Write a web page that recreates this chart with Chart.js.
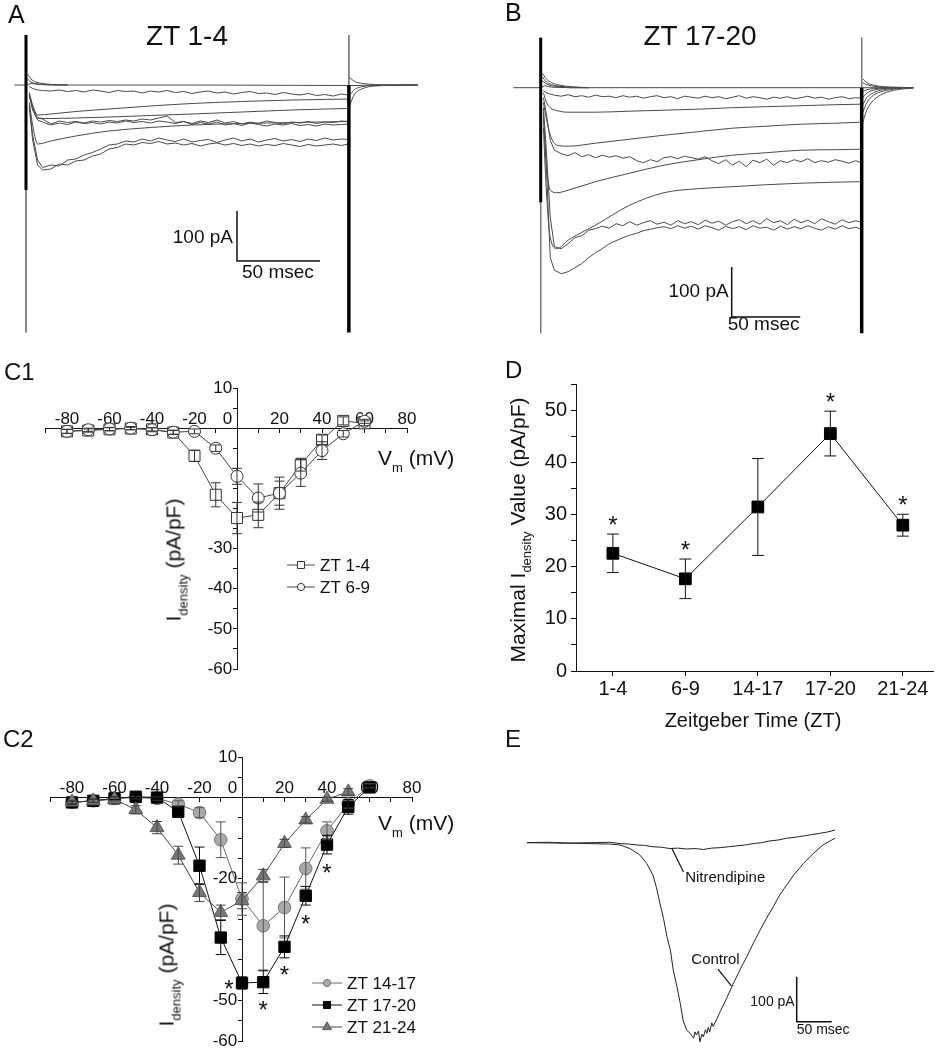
<!DOCTYPE html>
<html>
<head>
<meta charset="utf-8">
<title>L-type Ca2+ current across the day</title>
<script src="https://cdn.jsdelivr.net/npm/chart.js@4.4.1/dist/chart.umd.min.js"></script>
<style>
  body { margin: 0; background: #fff; }
  #fig { position: relative; width: 943px; height: 1050px; overflow: hidden;
         font-family: "Liberation Sans", Arial, Helvetica, sans-serif; color: #111; }
  #fig canvas { position: absolute; }
  .t { position: absolute; line-height: 1; white-space: nowrap; }
  .c { transform: translateX(-50%); }
  .rot { position: absolute; line-height: 1; white-space: nowrap; transform: translate(-50%, -50%) rotate(-90deg); }
  sub { font-size: 62%; line-height: 0; vertical-align: -0.5em; }
</style>
</head>
<body>
<div id="fig">
  <canvas id="cA" width="470" height="340" style="left:0;top:0"></canvas>
  <canvas id="cB" width="473" height="340" style="left:470px;top:0"></canvas>
  <canvas id="cC1" width="470" height="330" style="left:0;top:360px"></canvas>
  <canvas id="cC2" width="470" height="350" style="left:0;top:700px"></canvas>
  <canvas id="cD" width="473" height="370" style="left:470px;top:360px"></canvas>
  <canvas id="cE" width="473" height="320" style="left:470px;top:730px"></canvas>

  <div class="t" style="left:8px;top:2px;font-size:25px">A</div>
  <div class="t" style="left:505px;top:0;font-size:25px">B</div>
  <div class="t" style="left:4px;top:360px;font-size:24px">C1</div>
  <div class="t" style="left:3px;top:727px;font-size:24px">C2</div>
  <div class="t" style="left:505px;top:358px;font-size:24px">D</div>
  <div class="t" style="left:505px;top:727px;font-size:24px">E</div>
  <div class="t c" style="left:187px;top:22px;font-size:28px">ZT 1-4</div>
  <div class="t c" style="left:700px;top:22px;font-size:28px">ZT 17-20</div>
  <div class="t" style="left:378px;top:447px;font-size:21px">V<sub>m</sub> (mV)</div>
  <div class="t" style="left:378px;top:812px;font-size:21px">V<sub>m</sub> (mV)</div>
  <div class="rot" style="left:173px;top:560px;font-size:21px">I<sub>density</sub> (pA/pF)</div>
  <div class="rot" style="left:166px;top:965px;font-size:21px">I<sub>density</sub> (pA/pF)</div>
  <div class="rot" style="left:517px;top:530px;font-size:21px">Maximal I<sub>density</sub> Value (pA/pF)</div>
  <div class="t c" style="left:753px;top:710px;font-size:20px">Zeitgeber Time (ZT)</div>
</div>

<script>
// ---- A: whole-cell traces at ZT 1-4 (time in ms from step onset, current in pA)
const tA  = [2, 4, 7, 10, 15, 20, 25, 30, 35, 40, 45, 50, 55, 60, 65, 70, 75, 80, 85, 90, 95,
             100, 105, 110, 115, 120, 125, 130, 135, 140, 145, 150, 155, 160, 165, 170, 175, 180, 185, 190, 194];
const tAc = [2, 4, 7, 15, 30, 50, 75, 100, 130, 160, 194];
const a1 = [-3, -7, -10, -11, -12, -10, -13, -11, -14, -10, -12, -15, -11, -13, -12, -16, -12, -14, -11, -15, -13,
            -17, -14, -12, -16, -14, -18, -15, -13, -17, -16, -19, -15, -18, -20, -17, -21, -19, -22, -18, -20];
const a2 = [-15, -40, -60, -58, -53, -48, -42, -37, -33, -30, -28];
const a3 = [-18, -45, -66, -67, -66, -64, -61, -58, -54, -50, -47];
const a4 = [-20, -45, -66, -68, -78, -72, -75, -73, -76, -72, -74, -71, -73, -70, -72, -68, -70, -66, -62, -75, -73,
            -77, -72, -75, -70, -76, -73, -78, -74, -77, -72, -75, -78, -74, -76, -73, -77, -74, -75, -72, -73];
const a5 = [-22, -50, -70, -74, -80, -76, -79, -74, -77, -75, -78, -74, -76, -72, -75, -73, -76, -72, -74, -77, -73,
            -79, -75, -78, -74, -80, -77, -81, -76, -79, -82, -78, -80, -77, -81, -79, -82, -78, -80, -79, -78];
const a6 = [-35, -80, -118, -112, -102, -92, -85, -80, -77, -75, -73];
const a7 = [-40, -100, -150, -165, -160, -162, -150, -148, -140, -135, -128, -120, -118, -112, -114, -108, -112, -106, -110, -113, -108,
            -114, -111, -109, -115, -110, -106, -112, -108, -114, -110, -107, -112, -109, -113, -108, -111, -106, -110, -108, -109];
const a8 = [-45, -110, -160, -170, -168, -158, -160, -152, -150, -142, -138, -128, -125, -118, -120, -115, -117, -113, -118, -116, -120,
            -117, -122, -118, -116, -120, -117, -121, -118, -122, -119, -121, -117, -120, -123, -119, -122, -120, -118, -121, -118];
const baseTA = [-7, 0, 3, 8, 20, 100, 194, 200, 210, 236];
const baseA  = [0, 0, 3, 1, 0, 0, -1, -1, 0, 0];
const onTA = [1, 3, 6, 10, 16, 25];
const onA  = [[22, 12, 6, 3, 1, 0], [12, 6, 3, 1, 0, 0]];
const tailTA = [195, 198, 203, 210, 220, 236];
const tailA  = [[-40, -18, -7, -2, -1, 0], [-20, -9, -3, -1, 0, 0], [15, 7, 3, 1, 0, 0]];
const capA = { on: 0, off: 194.5, top: 100, core: -210, bottom: -495 };   // capacitive transients

// ---- B: traces at ZT 17-20
const tB  = [2, 4, 7, 10, 15, 20, 25, 30, 35, 40, 45, 50, 55, 60, 65, 70, 75, 80, 85, 90, 95, 100, 105, 110, 115,
             120, 125, 130, 135, 140, 145, 150, 155, 160, 165, 170, 175, 180, 185, 190, 195, 200, 205, 210, 215, 220, 225, 230, 234];
const tBc = [2, 4, 7, 12, 20, 40, 65, 90, 115, 140, 165, 190, 215, 234];
const b1 = [-6, -10, -13, -15, -17, -14, -18, -16, -19, -15, -18, -17, -20, -16, -19, -17, -21, -18, -16, -20, -18, -22, -17, -19, -21,
            -17, -20, -18, -22, -19, -16, -21, -18, -20, -23, -19, -21, -18, -22, -20, -17, -21, -19, -23, -20, -18, -22, -20, -21];
const b2 = [-10, -28, -40, -46, -49, -49, -47, -45, -43, -40, -38, -36, -34, -33];
const b3 = [-30, -60, -95, -115, -117, -111, -103, -95, -88, -81, -77, -73, -71, -69];
const b4 = [-20, -50, -105, -125, -132, -136, -130, -138, -134, -140, -135, -139, -136, -141, -138, -146, -150, -144, -148, -140, -138, -142, -137, -140, -143,
            -138, -146, -152, -144, -155, -147, -158, -145, -150, -143, -155, -146, -150, -144, -148, -142, -150, -146, -149, -144, -147, -151, -146, -150];
const b5 = [-60, -150, -205, -210, -205, -188, -171, -155, -144, -135, -130, -125, -124, -123];
const b6 = [-80, -200, -300, -322, -305, -275, -235, -210, -202, -198, -194, -191, -189, -188];
const b7 = [-40, -120, -260, -318, -322, -312, -300, -296, -285, -282, -277, -281, -272, -276, -268, -275, -270, -266, -273, -269, -275, -266, -272, -268, -274,
            -265, -271, -267, -275, -268, -264, -272, -266, -273, -262, -270, -266, -274, -263, -270, -265, -272, -262, -268, -273, -264, -270, -266, -269];
const b8 = [-50, -150, -340, -365, -372, -368, -360, -352, -340, -330, -322, -312, -306, -300, -295, -291, -286, -283, -280, -278, -282, -276, -281, -277, -283,
            -276, -280, -285, -277, -282, -278, -284, -276, -281, -279, -285, -277, -283, -278, -282, -276, -281, -285, -278, -283, -276, -282, -279, -283];
const baseTB = [-20, 0, 3, 8, 20, 234, 240, 250, 272];
const baseB  = [0, 0, 4, 1, 0, 0, 0, 0, 0];
const onTB = [1, 4, 8, 14, 22, 35];
const onB  = [[30, 18, 10, 5, 2, 0], [22, 12, 6, 3, 1, 0], [14, 8, 4, 2, 0, 0]];
const tailTB = [235, 238, 243, 250, 260, 272];
const tailB  = [[-70, -45, -25, -12, -4, -1], [-50, -30, -15, -7, -2, 0], [-35, -20, -10, -4, -1, 0],
                [-20, -11, -5, -2, 0, 0], [-8, -4, -2, -1, 0, 0], [18, 10, 5, 2, 1, 0], [10, 6, 3, 1, 0, 0]];
const capB = { on: 0, off: 234.3, top: 100, core: -229, bottom: -491 };

// ---- C1 / C2: I-V relations, mean and SEM (pA/pF)
const vSteps = [-80, -70, -60, -50, -40, -30, -20, -10, 0, 10, 20, 30, 40, 50, 60];
const zt1_4     = [-0.8, -0.6, -0.3, -0.1, -0.3, -1.1, -6.9, -16.6, -22.4, -21.6, -16.2, -9.1, -2.9, 1.8, 1.2];
const zt1_4Err  = [0.5, 0.4, 0.4, 0.3, 0.4, 0.5, 1.4, 3.0, 3.9, 3.2, 3.0, 1.6, 1.2, 1.0, 0.6];
const zt6_9     = [-0.8, -0.4, -0.2, 0, -0.4, -1.0, -0.8, -5.0, -12.0, -17.4, -16.2, -11.2, -5.6, -1.4, 1.7];
const zt6_9Err  = [0.5, 0.4, 0.4, 0.4, 0.5, 0.5, 0.6, 0.8, 2.0, 3.5, 4.0, 3.3, 2.2, 0.8, 0.5];
const zt14_17    = [-1.2, -0.8, -0.2, 0, -0.2, -1.6, -3.7, -10.4, -25.0, -31.6, -27.1, -17.5, -8.2, -1.6, 2.9];
const zt14_17Err = [0.4, 0.4, 0.4, 0.3, 0.4, 0.8, 1.2, 4.4, 4.0, 10.9, 7.5, 5.1, 2.2, 1.0, 0.5];
const zt17_20    = [-1.2, -0.8, -0.2, 0.2, 0, -3.5, -16.8, -34.5, -45.7, -45.5, -36.8, -24.2, -11.6, -2.3, 2.5];
const zt17_20Err = [0.4, 0.4, 0.3, 0.3, 0.4, 1.0, 4.6, 4.2, 1.5, 2.8, 2.7, 2.3, 2.3, 1.8, 0.5];
const zt21_24    = [-1.1, -0.8, -0.4, -3.0, -7.4, -14.2, -23.4, -28.3, -25.4, -19.3, -11.3, -5.5, -0.4, 1.4, null];
const zt21_24Err = [0.4, 0.4, 0.4, 1.0, 1.5, 2.2, 2.2, 1.8, 2.0, 1.6, 1.0, 0.8, 0.5, 0.8, null];
const sigC2 = [0, 10, 20, 30, 40];          // ZT 17-20 points marked *
const yLabC1 = [10, -30, -40, -50, -60];
const yLabC2 = [10, -20, -50, -60];

// ---- D: maximal current density per ZT window
const zts    = ['1-4', '6-9', '14-17', '17-20', '21-24'];
const maxI   = [22.6, 17.7, 31.5, 45.6, 28.0];
const maxErr = [3.7, 3.8, 9.3, 4.3, 2.1];
const sigD   = ['1-4', '6-9', '17-20', '21-24'];

// ---- E: control vs nitrendipine (ms, pA)
const tCtl = [0, 60, 118, 133, 147, 161, 171, 180, 185, 190, 195, 200, 205, 209, 214, 219, 223, 228, 233, 238,
              240, 242, 245, 247, 250, 252, 255, 257, 259, 261, 264, 266, 271, 276, 285, 295, 304, 314, 323, 333,
              342, 352, 361, 371, 381, 395, 409, 423, 440];
const ctl  = [0, -1, -3, -5, -13, -27, -46, -72, -100, -135, -168, -209, -240, -283, -318, -357, -394, -416, -423, -434,
              -420, -427, -418, -442, -425, -431, -415, -423, -410, -420, -400, -408, -392, -375, -346, -312, -283, -253, -224, -194,
              -168, -142, -116, -94, -72, -46, -24, -5, 10];
const tNit = [0, 30, 60, 90, 118, 133, 145, 157, 168, 180, 192, 204, 216, 228, 240, 252, 264, 276, 288, 300,
              312, 323, 335, 347, 359, 371, 383, 395, 407, 419, 430, 440];
const nit  = [0, 1, -1, 0, 1, -2, -3, -5, -6, -9, -10, -13, -12, -14, -13, -15, -12, -11, -9, -7,
              -5, -2, 0, 4, 6, 10, 12, 15, 18, 21, 24, 28];

const ink = '#111';
const family = '"Liberation Sans", Arial, Helvetica, sans-serif';
Chart.defaults.font.family = family;
Chart.defaults.color = ink;

const xy = (xs, ys) => xs.map((x, i) => ({ x, y: ys[i] }));

// vertical bar + two caps for every point, separated by gaps
function errorBars(xs, ys, es, cap) {
  const out = [];
  xs.forEach((x, i) => {
    if (ys[i] == null) return;
    const lo = ys[i] - es[i], hi = ys[i] + es[i];
    out.push({ x, y: lo }, { x, y: hi }, { x, y: null },
             { x: x - cap, y: hi }, { x: x + cap, y: hi }, { x, y: null },
             { x: x - cap, y: lo }, { x: x + cap, y: lo }, { x, y: null });
  });
  return out;
}

function mark(ctx, style, x, y, r, fill, stroke) {
  ctx.beginPath();
  if (style === 'rect') { const s = r * Math.SQRT1_2; ctx.rect(x - s, y - s, 2 * s, 2 * s); }
  else if (style === 'triangle') { ctx.moveTo(x, y - r); ctx.lineTo(x + r * 0.866, y + r / 2); ctx.lineTo(x - r * 0.866, y + r / 2); ctx.closePath(); }
  else ctx.arc(x, y, r, 0, Math.PI * 2);
  ctx.fillStyle = fill; ctx.fill();
  ctx.strokeStyle = stroke; ctx.lineWidth = 1; ctx.stroke();
}

// small line+symbol key
const keyBox = {
  id: 'keyBox',
  afterDraw(chart, args, o) {
    if (!o.items) return;
    const ctx = chart.ctx;
    ctx.save();
    ctx.font = o.size + 'px ' + family;
    ctx.textBaseline = 'middle';
    o.items.forEach((di, k) => {
      const ds = chart.data.datasets[di];
      const y = o.y + k * o.dy;
      ctx.strokeStyle = ds.borderColor; ctx.lineWidth = 1;
      ctx.beginPath(); ctx.moveTo(o.x, y); ctx.lineTo(o.x + o.len, y); ctx.stroke();
      mark(ctx, ds.pointStyle, o.x + o.len / 2, y, o.r[ds.pointStyle], ds.pointBackgroundColor, ds.pointBorderColor);
      ctx.fillStyle = ink;
      ctx.fillText(ds.label, o.x + o.len + 5, y + 1);
    });
    ctx.restore();
  }
};

// significance asterisks at data positions
const stars = {
  id: 'stars',
  afterDatasetsDraw(chart, args, o) {
    if (!o.items) return;
    const { ctx, scales: { x, y } } = chart;
    ctx.save();
    ctx.font = o.size + 'px ' + family;
    ctx.textAlign = 'center';
    ctx.fillStyle = ink;
    o.items.forEach(s => {
      ctx.fillText('*', x.getPixelForValue(s.x) + (s.dx || 0), y.getPixelForValue(s.y) + (s.dy || 0) + o.size * 0.58);
    });
    ctx.restore();
  }
};

// L-shaped calibration bar
const scaleBar = {
  id: 'scaleBar',
  afterDraw(chart, args, o) {
    if (!o.ms) return;
    const { ctx, scales: { x, y } } = chart;
    const w = x.getPixelForValue(o.ms) - x.getPixelForValue(0);
    const h = y.getPixelForValue(0) - y.getPixelForValue(o.pA);
    ctx.save();
    ctx.strokeStyle = ink; ctx.lineWidth = 1.5;
    ctx.beginPath(); ctx.moveTo(o.x, o.y - h); ctx.lineTo(o.x, o.y); ctx.lineTo(o.x + w, o.y); ctx.stroke();
    ctx.font = o.size + 'px ' + family; ctx.fillStyle = ink;
    ctx.textAlign = 'right'; ctx.textBaseline = 'middle';
    ctx.fillText(o.pA + ' pA', o.x - o.gx, o.y - h / 2 + o.gy);
    ctx.textAlign = 'left'; ctx.textBaseline = 'top';
    ctx.fillText(o.ms + ' msec', o.x + o.tx, o.y + o.ty);
    ctx.restore();
  }
};

// labelled pointer lines
const callouts = {
  id: 'callouts',
  afterDraw(chart, args, o) {
    if (!o.items) return;
    const { ctx, scales: { x, y } } = chart;
    ctx.save();
    ctx.font = o.size + 'px ' + family; ctx.fillStyle = ink; ctx.strokeStyle = ink; ctx.lineWidth = 1.2;
    o.items.forEach(c => {
      const px = x.getPixelForValue(c.t), py = y.getPixelForValue(c.pA);
      ctx.beginPath(); ctx.moveTo(px, py); ctx.lineTo(px + c.lx, py + c.ly); ctx.stroke();
      ctx.textAlign = c.align;
      ctx.fillText(c.text, px + c.tx, py + c.ty);
    });
    ctx.restore();
  }
};

const trace = (ts, vs, extra) => Object.assign({ data: xy(ts, vs), borderColor: '#4a4a4a', borderWidth: 1, pointRadius: 0 }, extra);
const smooth = { cubicInterpolationMode: 'monotone' };
const spikes = c => [
  { data: [{ x: c.on, y: c.top }, { x: c.on, y: c.core }], borderColor: '#000', borderWidth: 3, pointRadius: 0 },
  { data: [{ x: c.off, y: 0 }, { x: c.off, y: c.bottom }], borderColor: '#000', borderWidth: 3.5, pointRadius: 0 },
  { data: [{ x: c.on, y: c.top }, { x: c.on, y: c.bottom }], borderColor: '#777', borderWidth: 1, pointRadius: 0 },
  { data: [{ x: c.off, y: c.top }, { x: c.off, y: 0 }], borderColor: '#777', borderWidth: 1, pointRadius: 0 }
];

function traceChart(id, xr, yr, datasets, plugOpts) {
  return new Chart(document.getElementById(id), {
    type: 'line',
    data: { datasets },
    options: {
      responsive: false, animation: false, events: [],
      layout: { padding: 0 },
      scales: {
        x: { type: 'linear', min: xr[0], max: xr[1], display: false },
        y: { type: 'linear', min: yr[0], max: yr[1], display: false }
      },
      plugins: Object.assign({ legend: { display: false }, tooltip: { enabled: false } }, plugOpts)
    },
    plugins: [scaleBar, callouts]
  });
}

// A
traceChart('cA', [-15.66, 267.47], [-510, 170], [
  ...spikes(capA),
  trace(baseTA, baseA),
  ...onA.map(v => trace(onTA, v, smooth)),
  ...tailA.map(v => trace(tailTA, v, smooth)),
  trace(tA, a1), trace(tAc, a2, smooth), trace(tAc, a3, smooth), trace(tA, a4), trace(tA, a5),
  trace(tAc, a6, smooth), trace(tA, a7), trace(tA, a8)
], { scaleBar: { x: 237, y: 261, ms: 50, pA: 100, size: 19, gx: 4, gy: 2, tx: 5, ty: 2 } });

// B
traceChart('cB', [-51.6, 293.65], [-504.6, 175.4], [
  ...spikes(capB),
  trace(baseTB, baseB),
  ...onB.map(v => trace(onTB, v, smooth)),
  ...tailB.map(v => trace(tailTB, v, smooth)),
  trace(tB, b1), trace(tBc, b2, smooth), trace(tBc, b3, smooth), trace(tB, b4),
  trace(tBc, b5, smooth), trace(tBc, b6, smooth), trace(tB, b7), trace(tB, b8)
], { scaleBar: { x: 261.7, y: 317, ms: 50, pA: 100, size: 19, gx: 3, gy: 0, tx: -4, ty: -2 } });

// E
traceChart('cE', [-81.43, 594.3], [-460.2, 250.2], [
  trace(tCtl, ctl, { borderColor: '#222' }),
  trace(tNit, nit, { borderColor: '#222' })
], {
  scaleBar: { x: 326.7, y: 291.7, ms: 50, pA: 100, size: 14, gx: 2, gy: 3, tx: 0, ty: 1 },
  callouts: { size: 15, items: [
    { text: 'Nitrendipine', t: 207, pA: -13, lx: 11.6, ly: 23.4, tx: 13.3, ty: 33.7, align: 'left' },
    { text: 'Control', t: 292, pA: -318, lx: -13.4, ly: -16.7, tx: 8.3, ty: -21.7, align: 'right' }
  ] }
});

// C1 / C2
function ivChart(id, pad, datasets, yLabels, plugOpts) {
  const axisLook = {
    grid: { drawOnChartArea: false, tickLength: 4, color: ink },
    border: { display: true, color: ink, width: 1 }
  };
  return new Chart(document.getElementById(id), {
    type: 'line',
    data: { datasets },
    options: {
      responsive: false, animation: false, events: [],
      layout: { padding: pad },
      scales: {
        x: Object.assign({
          type: 'linear', min: -90, max: 80, position: { y: 0 },
          afterFit: s => { s.height = 0; s.paddingLeft = 0; s.paddingRight = 0; },
          ticks: { stepSize: 10, autoSkip: false, maxRotation: 0, padding: -23.5, font: { size: 17 }, color: ink,
                   callback: v => (v % 20 ? '' : (v === 0 ? '0    ' : String(v))) }
        }, axisLook),
        y: Object.assign({
          type: 'linear', min: -60, max: 10, position: { x: 0 },
          afterFit: s => { s.width = 0; s.paddingTop = 0; s.paddingBottom = 0; },
          ticks: { stepSize: 5, autoSkip: false, font: { size: 17 }, color: ink,
                   callback: v => (yLabels.includes(v) ? v + ' ' : '') }
        }, axisLook)
      },
      plugins: Object.assign({ legend: { display: false }, tooltip: { enabled: false } }, plugOpts)
    },
    plugins: [keyBox, stars]
  });
}

const series = (label, ys, style, r, fill, stroke, line) => ({
  label, data: xy(vSteps, ys), pointStyle: style, pointRadius: r, pointBorderWidth: 1,
  pointBackgroundColor: fill, pointBorderColor: stroke, borderColor: line, borderWidth: 1
});
const bars = (ys, es, color) => ({ data: errorBars(vSteps, ys, es, 2.35), borderColor: color, borderWidth: 1, pointRadius: 0 });

ivChart('cC1', { left: 45.75, right: 63, top: 28, bottom: 21 }, [
  bars(zt6_9, zt6_9Err, '#333'),
  bars(zt1_4, zt1_4Err, '#333'),
  series('ZT 6-9', zt6_9, 'circle', 6, '#fff', '#333', '#444'),
  series('ZT 1-4', zt1_4, 'rect', 7.8, '#fff', '#333', '#444')
], yLabC1, {
  keyBox: { items: [3, 2], x: 287, y: 205, dy: 22, len: 28, size: 17, r: { rect: 5, circle: 3.6, triangle: 5 } }
});

ivChart('cC2', { left: 50.75, right: 58, top: 57, bottom: 8 }, [
  bars(zt21_24, zt21_24Err, '#444'),
  bars(zt17_20, zt17_20Err, '#000'),
  bars(zt14_17, zt14_17Err, '#555'),
  series('ZT 21-24', zt21_24, 'triangle', 8, '#777', '#5a5a5a', '#444'),
  series('ZT 17-20', zt17_20, 'rect', 8, '#000', '#000', '#111'),
  series('ZT 14-17', zt14_17, 'circle', 6.3, '#a9a9a9', '#777', '#666')
], yLabC2, {
  keyBox: { items: [5, 4, 3], x: 312, y: 283, dy: 22, len: 30, size: 17, r: { rect: 5, circle: 3.6, triangle: 5.2 } },
  stars: { size: 24, items: sigC2.map(v => ({
    x: v, y: zt17_20[vSteps.indexOf(v)], dx: v === 0 ? -13 : 0, dy: v === 0 ? 0 : 22
  })) }
});

// D
const ztPos = zts.map((z, i) => i + 1);
new Chart(document.getElementById('cD'), {
  type: 'line',
  data: { datasets: [
    { data: errorBars(ztPos, maxI, maxErr, 0.082), borderColor: ink, borderWidth: 1, pointRadius: 0 },
    { data: xy(ztPos, maxI), borderColor: ink, borderWidth: 1, pointStyle: 'rect', pointRadius: 8.3,
      pointBackgroundColor: '#000', pointBorderColor: '#000' }
  ] },
  options: {
    responsive: false, animation: false, events: [],
    // axis boxes get a fixed size so the plot area lands where the original has it
    layout: { padding: { left: 6, right: 8, top: 24.6, bottom: 4 } },
    scales: {
      x: {
        type: 'linear', min: 0.491, max: 5.426,
        afterBuildTicks: s => { s.ticks = ztPos.map(v => ({ value: v })); },
        afterFit: s => { s.height = 55; s.paddingLeft = 0; s.paddingRight = 0; },
        ticks: { font: { size: 20 }, padding: 1, color: ink, maxRotation: 0, autoSkip: false,
                 callback: v => zts[Math.round(v) - 1] },
        grid: { drawOnChartArea: false, tickLength: 5, color: ink },
        border: { display: true, color: ink, width: 1 }
      },
      y: {
        min: 0, max: 55,
        afterFit: s => { s.width = 100; s.paddingTop = 0; s.paddingBottom = 0; },
        ticks: { stepSize: 5, autoSkip: false, font: { size: 20 }, padding: 4, color: ink,
                 callback: v => (v % 10 === 0 ? String(v) : '') },
        grid: { drawOnChartArea: false, tickLength: 5, color: ink },
        border: { display: true, color: ink, width: 1 }
      }
    },
    plugins: {
      legend: { display: false }, tooltip: { enabled: false },
      stars: { size: 24, items: sigD.map(z => {
        const i = zts.indexOf(z);
        return { x: i + 1, y: maxI[i] + maxErr[i], dy: -15 };
      }) }
    }
  },
  plugins: [stars]
});
</script>
</body>
</html>
